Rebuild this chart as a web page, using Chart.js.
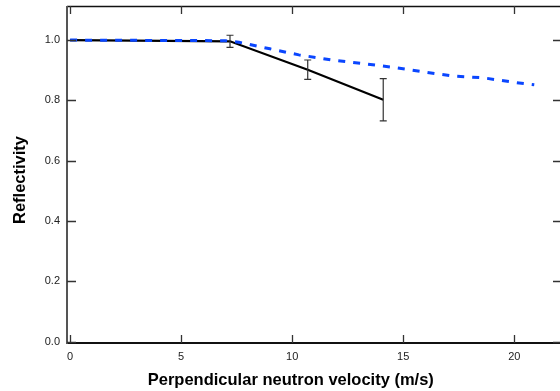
<!DOCTYPE html>
<html><head><meta charset="utf-8">
<script src="https://cdn.jsdelivr.net/npm/chart.js@4/dist/chart.umd.min.js"></script>
<style>html,body{margin:0;padding:0;background:#fff}#wrap{width:560px;height:391px;position:relative}</style>
</head><body><div id="wrap"><canvas id="c"></canvas></div>
<script>
// Measured reflectivity (solid black with error bars)
const measuredVelocity = [0, 7.2, 10.7, 14.1];
const measuredReflectivity = [1.0, 0.996, 0.902, 0.802];
const measuredError = [0, 0.02, 0.032, 0.07];
// Model curve (blue dashed)
const modelVelocity = [0, 7.0, 7.6, 9.0, 10.3, 11.8, 13.2, 14.5, 15.9, 17.2, 18.6, 20.0, 20.9];
const modelReflectivity = [1.0, 0.998, 0.993, 0.971, 0.951, 0.934, 0.922, 0.910, 0.895, 0.881, 0.875, 0.860, 0.852];
// Tick labels
const xTicks = [0, 5, 10, 15, 20];
const yTicks = [0.0, 0.2, 0.4, 0.6, 0.8, 1.0];
const xTitle = 'Perpendicular neutron velocity (m/s)';
const yTitle = 'Reflectivity';

const FONT = '"Liberation Sans", Arial, Helvetica, sans-serif';

const framePlugin = {
  id: 'frame',
  afterDatasetsDraw(chart) {
    const ctx = chart.ctx, a = chart.chartArea;
    const xs = chart.scales.x, ys = chart.scales.y;
    ctx.save();
    // error bars
    ctx.strokeStyle = '#333';
    ctx.lineWidth = 1.2;
    measuredVelocity.forEach((v, i) => {
      const e = measuredError[i];
      if (!e) return;
      const px = xs.getPixelForValue(v);
      const t = ys.getPixelForValue(measuredReflectivity[i] + e);
      const b = ys.getPixelForValue(measuredReflectivity[i] - e);
      ctx.beginPath();
      ctx.moveTo(px, t); ctx.lineTo(px, b);
      ctx.moveTo(px - 3.5, t); ctx.lineTo(px + 3.5, t);
      ctx.moveTo(px - 3.5, b); ctx.lineTo(px + 3.5, b);
      ctx.stroke();
    });
    // frame lines
    ctx.lineCap = 'butt';
    ctx.strokeStyle = '#111';
    ctx.lineWidth = 1.5;
    ctx.beginPath(); ctx.moveTo(a.left, a.top + 0.5); ctx.lineTo(a.right, a.top + 0.5); ctx.stroke();
    ctx.lineWidth = 2;
    ctx.beginPath(); ctx.moveTo(a.left, a.bottom); ctx.lineTo(a.right, a.bottom); ctx.stroke();
    ctx.strokeStyle = '#555';
    ctx.beginPath(); ctx.moveTo(a.left, a.top); ctx.lineTo(a.left, a.bottom + 1); ctx.stroke();
    // ticks
    ctx.strokeStyle = '#333';
    ctx.lineWidth = 1.3;
    ctx.beginPath();
    xTicks.forEach(v => {
      const px = Math.round(xs.getPixelForValue(v)) + 0.5;
      ctx.moveTo(px, a.bottom); ctx.lineTo(px, a.bottom - 8);
      ctx.moveTo(px, a.top); ctx.lineTo(px, a.top + 8);
    });
    yTicks.forEach(v => {
      const py = Math.round(ys.getPixelForValue(v)) + 0.5;
      ctx.moveTo(a.left, py); ctx.lineTo(a.left + 9, py);
      ctx.moveTo(a.right, py); ctx.lineTo(a.right - 7, py);
    });
    ctx.stroke();
    // titles
    ctx.fillStyle = '#000';
    ctx.font = 'bold 16.5px ' + FONT;
    ctx.textAlign = 'center';
    ctx.textBaseline = 'alphabetic';
    ctx.fillText(xTitle, 290.8, 385);
    ctx.translate(25, 180);
    ctx.rotate(-Math.PI / 2);
    ctx.fillText(yTitle, 0, 0);
    ctx.restore();
  }
};

new Chart(document.getElementById('c'), {
  type: 'line',
  data: {
    datasets: [
      {
        label: 'Model',
        data: modelVelocity.map((v, i) => ({x: v, y: modelReflectivity[i]})),
        borderColor: '#0a46ff',
        borderWidth: 3,
        borderDash: [7, 8],
        pointRadius: 0,
        fill: false,
        tension: 0,
        order: 0
      },
      {
        label: 'Measured',
        data: measuredVelocity.map((v, i) => ({x: v, y: measuredReflectivity[i]})),
        borderColor: '#000',
        borderWidth: 2.2,
        pointRadius: 0,
        fill: false,
        tension: 0,
        order: 1
      }
    ]
  },
  options: {
    responsive: true,
    maintainAspectRatio: false,
    animation: false,
    devicePixelRatio: 1,
    layout: {padding: {top: 6, right: 0, left: 0, bottom: 0}},
    plugins: {legend: {display: false}, tooltip: {enabled: false}},
    scales: {
      x: {
        type: 'linear',
        min: -0.14, max: 22.06,
        afterBuildTicks: s => { s.ticks = xTicks.map(v => ({value: v})); },
        afterFit: s => { s.height = 48; s.paddingLeft = 0; s.paddingRight = 0; },
        grid: {display: false, drawTicks: false},
        border: {display: false},
        ticks: {
          color: '#222', padding: 7, maxRotation: 0,
          font: {family: FONT, size: 11},
          callback: v => String(v)
        }
      },
      y: {
        type: 'linear',
        min: -0.004, max: 1.113,
        afterBuildTicks: s => { s.ticks = yTicks.map(v => ({value: v})); },
        afterFit: s => { s.width = 67; s.paddingTop = 0; s.paddingBottom = 0; },
        grid: {display: false, drawTicks: false},
        border: {display: false},
        ticks: {
          color: '#222', padding: 7,
          font: {family: FONT, size: 11},
          callback: v => Number(v).toFixed(1)
        }
      }
    }
  },
  plugins: [framePlugin]
});
</script>
</body></html>
